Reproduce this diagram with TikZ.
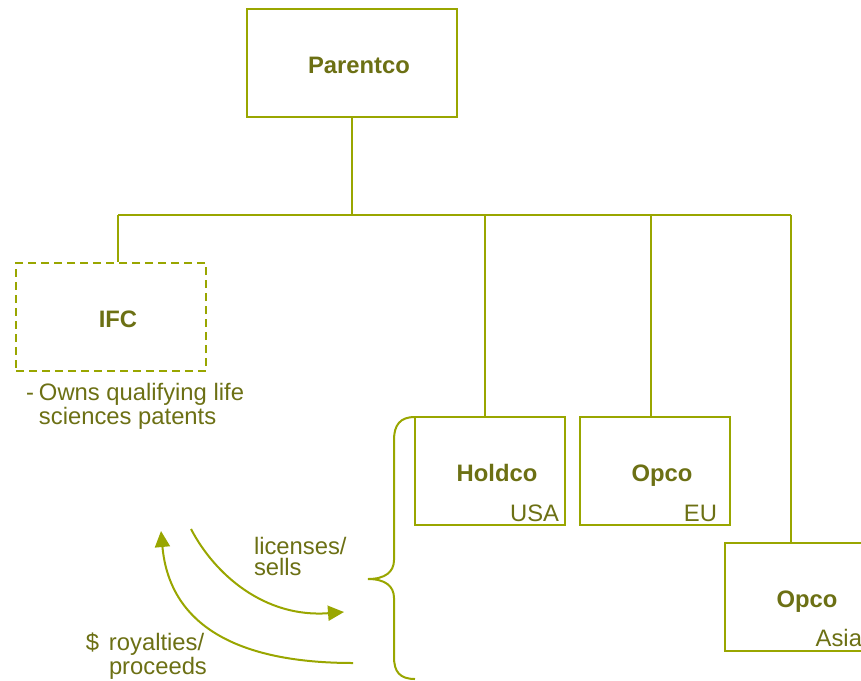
\documentclass[tikz,border=0pt]{standalone}
\usepackage{fontspec}
\setmainfont{Liberation Sans}
\usetikzlibrary{arrows.meta}
\definecolor{oliveline}{RGB}{153,166,0}
\definecolor{olivetext}{RGB}{108,112,20}

\begin{document}
\begin{tikzpicture}[x=0.5pt,y=-0.5pt,color=oliveline,line width=1pt,
  box/.style={draw=oliveline,line width=1pt,minimum height=54pt,inner sep=0pt},
  title/.style={text=olivetext,font=\fontsize{11.9}{11}\selectfont\bfseries,anchor=base,inner sep=0pt},
  tag/.style={text=olivetext,font=\fontsize{11.9}{10.6}\selectfont,inner sep=0pt},
  flow/.style={draw=oliveline,line width=1pt,-{Triangle[length=8pt,width=7.5pt]}}]
  \clip (0,0) rectangle (861,680);

  % companies
  \node[box,minimum width=105pt] (parent) at (352,63) {};
  \node[title] (parentname) at ([shift={(7,10)}]parent.center) {Parentco};

  \node[box,minimum width=95pt,dash pattern=on 4pt off 2.5pt] (ifc) at (111,317) {};
  \node[title] (ifcname) at ([shift={(7,10)}]ifc.center) {IFC};

  \node[box,minimum width=75pt] (holdco) at (490,471) {};
  \node[title] (holdconame) at ([shift={(7,10)}]holdco.center) {Holdco};
  \node[tag,anchor=base east] (usa) at ([shift={(-6,-5)}]holdco.south east) {USA};

  \node[box,minimum width=75pt] (opcoeu) at (655,471) {};
  \node[title] (opcoeuname) at ([shift={(7,10)}]opcoeu.center) {Opco};
  \node[tag,anchor=base east] (eu) at ([shift={(-13,-5)}]opcoeu.south east) {EU};

  \node[box,minimum width=75pt] (opcoasia) at (800,597) {};
  \node[title] (opcoasianame) at ([shift={(7,10)}]opcoasia.center) {Opco};
  \node[tag,anchor=base east] (asia) at ([shift={(-13,-6)}]opcoasia.south east) {Asia};

  % ownership lines
  \coordinate (busparent) at (352,215);
  \coordinate (busifc) at (118,215);
  \coordinate (busholdco) at (485,215);
  \coordinate (busopcoeu) at (651,215);
  \coordinate (busopcoasia) at (791,215);
  \draw (parent.south) -- (busparent);
  \draw (busifc) -- (busopcoasia);
  \draw (busifc) -- (busifc |- ifc.north);
  \draw (busholdco) -- (busholdco |- holdco.north);
  \draw (busopcoeu) -- (busopcoeu |- opcoeu.north);
  \draw (busopcoasia) -- (busopcoasia |- opcoasia.north);

  \node[tag,anchor=north west,align=left] (ifcnote) at (38,382)
    {\llap{-\hspace{2.5pt}}Owns qualifying life\\sciences patents};

  % brace round the group
  \draw (415,417) .. controls (400,417) and (394,425) .. (394,440) -- (394,560)
    .. controls (394,572) and (385,579) .. (368,579)
    .. controls (385,579) and (394,586) .. (394,598) -- (394,657)
    .. controls (394,672) and (400,679) .. (415,679);

  % flows
  \coordinate (licfrom) at (191,529);
  \coordinate (licto) at (344,612);
  \draw[flow] (licfrom) .. controls (215,575) and (265,618) .. (licto);
  \node[tag,anchor=north west,align=left] (licnote) at (253,536) {licenses/\\sells};

  \coordinate (royfrom) at (353,663);
  \coordinate (royto) at (161,531);
  \draw[flow] (royfrom) .. controls (245,663) and (170,630) .. (royto);
  \node[tag,anchor=north west,align=left] (roynote) at (108,632)
    {\llap{\$\hspace{5pt}}royalties/\\proceeds};
\end{tikzpicture}
\end{document}
